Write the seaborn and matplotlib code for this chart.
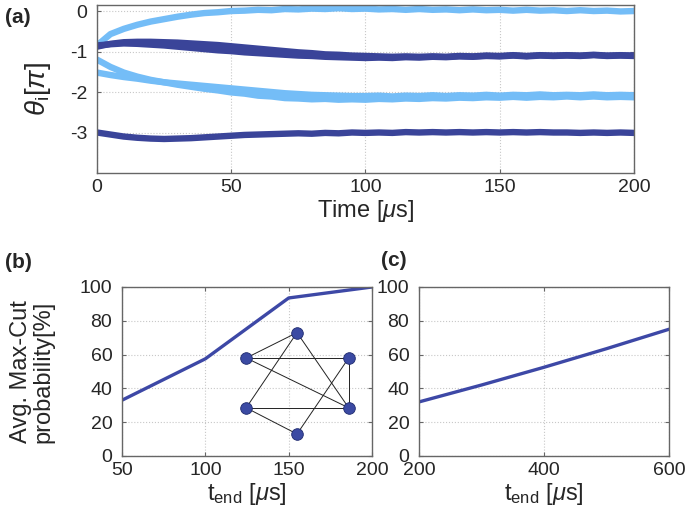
import numpy as np
import pandas as pd
import matplotlib
matplotlib.use("Agg")
import matplotlib.pyplot as plt
import seaborn as sns

# ---- panel (a): phase trajectories theta_i [pi] vs time [us]
times = list(range(0, 201, 5))

light_top = [-0.85, -0.57, -0.44, -0.34, -0.26, -0.20, -0.14, -0.09, -0.05, -0.03,
             0.00, 0.01, 0.03, 0.02, 0.05, 0.04, 0.06, 0.05, 0.07, 0.05,
             0.06, 0.04, 0.05, 0.03, 0.05, 0.03, 0.04, 0.02, 0.04, 0.02,
             0.03, 0.01, 0.03, 0.01, 0.02, 0.00, 0.02, 0.00, 0.01, -0.01, 0.00]
light_mid = [-1.20, -1.38, -1.52, -1.62, -1.70, -1.76, -1.82, -1.87, -1.92, -1.96,
             -2.01, -2.04, -2.09, -2.11, -2.15, -2.16, -2.18, -2.17, -2.19, -2.18,
             -2.19, -2.17, -2.18, -2.16, -2.17, -2.15, -2.16, -2.14, -2.15, -2.13,
             -2.14, -2.12, -2.14, -2.12, -2.13, -2.11, -2.13, -2.11, -2.13, -2.12, -2.13]
light_low = [-1.52, -1.58, -1.63, -1.67, -1.72, -1.76, -1.79, -1.82, -1.85, -1.88,
             -1.91, -1.94, -1.97, -2.00, -2.03, -2.05, -2.07, -2.08, -2.09, -2.10,
             -2.10, -2.09, -2.11, -2.09, -2.10, -2.08, -2.10, -2.08, -2.09, -2.07,
             -2.09, -2.07, -2.08, -2.06, -2.08, -2.07, -2.08, -2.06, -2.08, -2.07, -2.08]
dark_a = [-0.85, -0.82, -0.80, -0.81, -0.83, -0.85, -0.88, -0.91, -0.94, -0.97,
          -0.99, -1.02, -1.04, -1.06, -1.08, -1.10, -1.11, -1.13, -1.14, -1.15,
          -1.16, -1.15, -1.16, -1.14, -1.15, -1.13, -1.14, -1.12, -1.13, -1.11,
          -1.12, -1.10, -1.12, -1.10, -1.11, -1.10, -1.11, -1.09, -1.11, -1.10, -1.11]
dark_b = [-0.88, -0.81, -0.77, -0.76, -0.76, -0.77, -0.78, -0.80, -0.82, -0.84,
          -0.87, -0.90, -0.93, -0.96, -0.99, -1.02, -1.04, -1.07, -1.08, -1.10,
          -1.11, -1.12, -1.13, -1.12, -1.13, -1.12, -1.13, -1.11, -1.12, -1.10,
          -1.11, -1.09, -1.11, -1.09, -1.10, -1.09, -1.10, -1.08, -1.10, -1.09, -1.10]
dark_c = [-3.00, -3.05, -3.10, -3.13, -3.15, -3.16, -3.15, -3.14, -3.12, -3.10,
          -3.08, -3.06, -3.05, -3.04, -3.03, -3.02, -3.03, -3.01, -3.02, -3.00,
          -3.01, -3.00, -3.01, -2.99, -3.00, -2.99, -3.00, -2.99, -3.00, -2.99,
          -3.00, -2.99, -3.00, -2.99, -3.00, -3.00, -3.01, -3.00, -3.01, -3.00, -3.01]

# ---- panel (b) and (c): avg. Max-Cut probability vs t_end
t_end_b = [50, 100, 150, 200]
prob_b = [33, 57.5, 93.5, 100]
t_end_c = [200, 300, 400, 500, 600]
prob_c = [32, 42, 52.5, 63.5, 75]

# inset graph (6 nodes) in panel (b) data coords
node_x = [155, 124.5, 186, 124.5, 186, 155]
node_y = [73, 58, 58, 28.5, 28.5, 13]
edges = [(0, 1), (0, 3), (0, 4), (1, 2), (1, 4), (2, 4), (2, 5), (3, 4), (3, 5)]

LIGHT = "#74bdf7"
DARK = "#3a4499"
LINE = "#3d48a6"
SPINE = "#666666"

sns.set_theme(style="ticks")
plt.rcParams["font.family"] = ["Liberation Sans", "DejaVu Sans"]
plt.rcParams["mathtext.fontset"] = "custom"
plt.rcParams["mathtext.rm"] = "Liberation Sans"
plt.rcParams["mathtext.it"] = "Liberation Sans:italic"
plt.rcParams["mathtext.bf"] = "Liberation Sans:bold"

fig = plt.figure(figsize=(6.85, 5.17), dpi=100)
ax_a = fig.add_axes([0.1416, 0.6654, 0.7839, 0.325])
ax_b = fig.add_axes([0.1781, 0.118, 0.365, 0.3269])
ax_c = fig.add_axes([0.6117, 0.118, 0.365, 0.3269])

curves = {"l1": light_top, "l2": light_mid, "l3": light_low,
          "d1": dark_a, "d2": dark_b, "d3": dark_c}
df_a = pd.DataFrame([(t, v, k) for k, vals in curves.items() for t, v in zip(times, vals)],
                    columns=["t", "theta", "curve"])
pal = {"l1": LIGHT, "l2": LIGHT, "l3": LIGHT, "d1": DARK, "d2": DARK, "d3": DARK}
sns.lineplot(data=df_a, x="t", y="theta", hue="curve", palette=pal, lw=4.6,
             legend=False, ax=ax_a, solid_capstyle="round", solid_joinstyle="round")

sns.lineplot(x=t_end_b, y=prob_b, color=LINE, lw=2.4, ax=ax_b)
sns.lineplot(x=t_end_c, y=prob_c, color=LINE, lw=2.4, ax=ax_c)

for i, j in edges:
    ax_b.plot([node_x[i], node_x[j]], [node_y[i], node_y[j]], color="#222222", lw=0.7, zorder=3)
ax_b.scatter(node_x, node_y, s=70, color="#3b4aa3", edgecolor="#1e2a6e", lw=0.6, zorder=4)

def style(ax):
    for s in ax.spines.values():
        s.set_visible(True)
        s.set_color(SPINE)
        s.set_linewidth(1.0)
    ax.tick_params(direction="in", length=3, width=0.8, color=SPINE,
                   top=True, right=True, labelsize=14)
    ax.tick_params(axis="x", pad=4)
    ax.tick_params(axis="y", pad=7)
    ax.grid(True, ls=":", lw=0.8, color="#c8c8c8")
    ax.set_axisbelow(True)

for ax in (ax_a, ax_b, ax_c):
    style(ax)

ax_a.set_xlim(0, 200)
ax_a.set_ylim(-4, 0.15)
ax_a.set_xticks([0, 50, 100, 150, 200])
ax_a.set_yticks([0, -1, -2, -3])
ax_a.set_yticklabels(["0", "-1", "-2", "-3"])
ax_a.set_xlabel(r"Time [$\mu$s]", fontsize=17, labelpad=2)
ax_a.set_ylabel(r"$\theta_{\rm i}[\pi]$", fontsize=20)
ax_a.yaxis.set_label_coords(-0.082, 0.5)

ax_b.set_xlim(50, 200)
ax_b.set_ylim(0, 100)
ax_b.set_xticks([50, 100, 150, 200])
ax_b.set_yticks([0, 20, 40, 60, 80, 100])
ax_b.set_xlabel(r"t$_{\rm end}$ [$\mu$s]", fontsize=17, labelpad=2)
ax_b.set_ylabel("Avg. Max-Cut\nprobability[%]", fontsize=17, linespacing=1.0)
ax_b.yaxis.set_label_coords(-0.27, 0.5)

ax_c.set_xlim(200, 600)
ax_c.set_ylim(0, 100)
ax_c.set_xticks([200, 400, 600])
ax_c.set_yticks([0, 20, 40, 60, 80, 100])
ax_c.set_xlabel(r"t$_{\rm end}$ [$\mu$s]", fontsize=17, labelpad=2)

fig.text(0.008, 0.985, "(a)", fontsize=15, fontweight="bold", va="top")
fig.text(0.008, 0.51, "(b)", fontsize=15, fontweight="bold", va="top")
fig.text(0.556, 0.515, "(c)", fontsize=15, fontweight="bold", va="top")

fig.savefig("out.png", dpi=100)
